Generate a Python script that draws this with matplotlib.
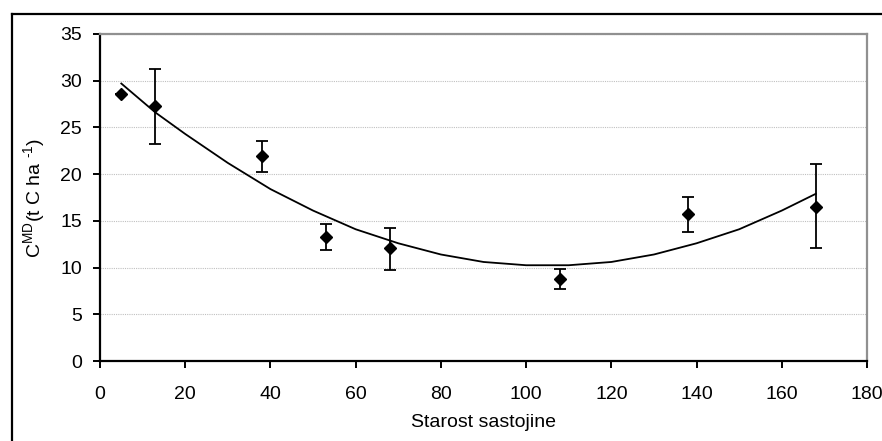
import matplotlib
matplotlib.use("Agg")
import matplotlib.pyplot as plt
from matplotlib.lines import Line2D

plt.rcParams['font.family'] = ['Liberation Sans', 'DejaVu Sans']
plt.rcParams['mathtext.fontset'] = 'custom'
plt.rcParams['mathtext.rm'] = 'Liberation Sans'

# data
age = [5, 13, 38, 53, 68, 108, 138, 168]
carbon = [28.6, 27.3, 21.9, 13.3, 12.1, 8.8, 15.7, 16.5]
err_low = [0.0, 4.1, 1.7, 1.4, 2.4, 1.1, 1.9, 4.4]
err_high = [0.0, 4.0, 1.7, 1.4, 2.1, 1.1, 1.9, 4.6]

trend_x = [5, 13, 20, 30, 40, 50, 60, 70, 80, 90, 100, 110, 120, 130, 140, 150, 160, 168]
trend_y = [29.7, 26.6, 24.3, 21.2, 18.4, 16.1, 14.1, 12.6, 11.4, 10.6, 10.25, 10.25,
           10.6, 11.4, 12.6, 14.1, 16.1, 17.9]

x_ticks = [0, 20, 40, 60, 80, 100, 120, 140, 160, 180]
y_ticks = [0, 5, 10, 15, 20, 25, 30, 35]

fig = plt.figure(figsize=(8.82, 4.41), dpi=100)
# outer frame lines (left and top)
fig.add_artist(Line2D([12/882, 12/882], [0, 1-13.5/441], transform=fig.transFigure,
                      color='black', lw=1.6))
fig.add_artist(Line2D([12/882, 1.0], [1-13.5/441, 1-13.5/441], transform=fig.transFigure,
                      color='black', lw=1.6))

ax = fig.add_axes([100/882, 1-361/441, (867-100)/882, (361-34)/441])

ax.plot(trend_x, trend_y, color='black', lw=1.3, zorder=2)
ax.errorbar(age, carbon, yerr=[err_low, err_high], fmt='D', color='black',
            ms=6.5, ecolor='black', elinewidth=1.3, capsize=4, capthick=1.3, zorder=3)

ax.set_xlim(0, 180)
ax.set_ylim(0, 35)
ax.set_xticks(x_ticks)
ax.set_yticks(y_ticks)
ax.yaxis.grid(True, color='#c0c0c0', lw=0.8, ls=(0, (1, 1)))
ax.set_axisbelow(True)

for s in ['left', 'bottom']:
    ax.spines[s].set_color('black')
    ax.spines[s].set_linewidth(1.6)
for s in ['top', 'right']:
    ax.spines[s].set_color('#909090')
    ax.spines[s].set_linewidth(1.6)

ax.tick_params(axis='both', direction='out', length=5, width=1.4, labelsize=14,
               colors='black')
ax.tick_params(axis='x', pad=13)
ax.tick_params(axis='y', pad=8)

ax.set_xlabel('Starost sastojine', fontsize=14, labelpad=8)
ax.set_ylabel(r'C$^{\mathregular{MD}}$(t C ha $^{\mathregular{\text{-}1}}$)', fontsize=14, labelpad=9)

fig.savefig('out.png', dpi=100)
